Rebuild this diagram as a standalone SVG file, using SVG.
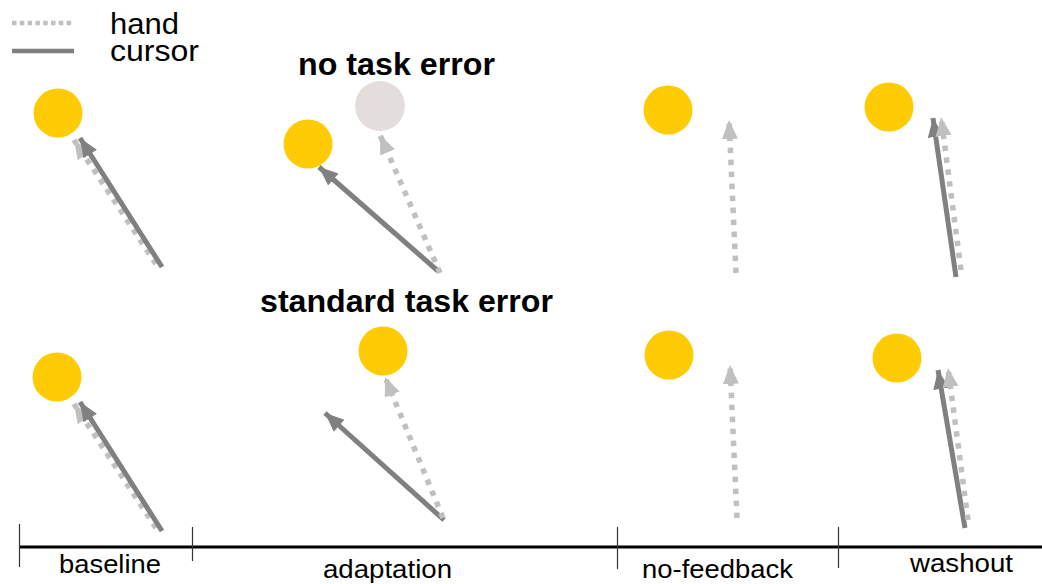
<svg xmlns="http://www.w3.org/2000/svg" width="1042" height="584" viewBox="0 0 1042 584">
<style>
.cur{stroke:#808080;stroke-width:5;fill:none;marker-end:url(#hc)}
.hand{stroke:#c0c0c0;stroke-width:5.5;fill:none;stroke-dasharray:5.5 6.5;marker-end:url(#hh)}
.tgt{fill:#fecb05}
.ghost{fill:#e3dedb}
.lbl{font-family:"Liberation Sans",Arial,sans-serif;font-size:26px;fill:#000}
.leg{font-family:"Liberation Sans",Arial,sans-serif;font-size:29px;fill:#000}
.ttl{font-family:"Liberation Sans",Arial,sans-serif;font-size:31px;font-weight:bold;fill:#000}
.tick{stroke:#333;stroke-width:1.2}
</style>
<defs>
<marker id="hc" markerUnits="userSpaceOnUse" markerWidth="20" markerHeight="18" refX="19" refY="9" orient="auto"><path d="M0,1 L19,9 L0,17 z" fill="#808080"/></marker>
<marker id="hh" markerUnits="userSpaceOnUse" markerWidth="20" markerHeight="18" refX="19" refY="9" orient="auto"><path d="M0,1 L19,9 L0,17 z" fill="#c0c0c0"/></marker>
</defs>
<rect width="1042" height="584" fill="#fff"/>
<g id="legend">
<line x1="12" y1="23" x2="74" y2="23" stroke="#c0c0c0" stroke-width="4.5" stroke-dasharray="4.5 3.3"/>
<line x1="12" y1="51" x2="74" y2="51" stroke="#808080" stroke-width="4.5"/>
<text x="110" y="34" class="leg" textLength="69" lengthAdjust="spacingAndGlyphs">hand</text>
<text x="110" y="61" class="leg" textLength="89" lengthAdjust="spacingAndGlyphs">cursor</text>
</g>
<g id="titles">
<text x="298" y="75" class="ttl" textLength="197" lengthAdjust="spacingAndGlyphs">no task error</text>
<text x="260" y="312" class="ttl" textLength="293" lengthAdjust="spacingAndGlyphs">standard task error</text>
</g>
<g id="targets">
<circle id="t-base-top" class="tgt" cx="58" cy="113" r="24.5"/>
<circle id="t-adapt-top" class="tgt" cx="308" cy="144" r="24.5"/>
<circle id="t-adapt-top-ghost" class="ghost" cx="380" cy="106" r="25"/>
<circle id="t-nofb-top" class="tgt" cx="668" cy="110" r="24.5"/>
<circle id="t-wash-top" class="tgt" cx="889" cy="107" r="24.5"/>
<circle id="t-base-bot" class="tgt" cx="57" cy="377" r="24.5"/>
<circle id="t-adapt-bot" class="tgt" cx="383" cy="351" r="24.5"/>
<circle id="t-nofb-bot" class="tgt" cx="669" cy="355" r="24.5"/>
<circle id="t-wash-bot" class="tgt" cx="897" cy="358" r="24.5"/>
</g>
<g id="connectors">
<line class="hand" x1="156" y1="264" x2="74" y2="140"/>
<line class="cur" x1="162" y1="267" x2="80" y2="138"/>
<line class="cur" x1="438" y1="271" x2="319" y2="167"/>
<line class="hand" x1="440" y1="273" x2="380" y2="135"/>
<line class="hand" x1="736" y1="273" x2="729" y2="120"/>
<line class="cur" x1="956" y1="277" x2="933" y2="118"/>
<line class="hand" x1="961" y1="270" x2="941" y2="117"/>
<line class="hand" x1="156" y1="528" x2="74" y2="404"/>
<line class="cur" x1="162" y1="531" x2="80" y2="402"/>
<line class="cur" x1="444" y1="520" x2="325" y2="413"/>
<line class="hand" x1="443" y1="518" x2="385" y2="377"/>
<line class="hand" x1="737" y1="518" x2="730" y2="365"/>
<line class="cur" x1="965" y1="528" x2="938" y2="370"/>
<line class="hand" x1="968" y1="520" x2="948" y2="368"/>
</g>
<g id="timeline">
<line x1="19" y1="547" x2="1042" y2="547" stroke="#000" stroke-width="3"/>
<line class="tick" x1="19.5" y1="524" x2="19.5" y2="567"/>
<line class="tick" x1="192.5" y1="527" x2="192.5" y2="561"/>
<line class="tick" x1="617.5" y1="527" x2="617.5" y2="569"/>
<line class="tick" x1="838.5" y1="527" x2="838.5" y2="568"/>
<text x="59" y="573" class="lbl" textLength="102" lengthAdjust="spacingAndGlyphs">baseline</text>
<text x="323" y="578" class="lbl" textLength="129" lengthAdjust="spacingAndGlyphs">adaptation</text>
<text x="642" y="578" class="lbl" textLength="151" lengthAdjust="spacingAndGlyphs">no-feedback</text>
<text x="910" y="572" class="lbl" textLength="103" lengthAdjust="spacingAndGlyphs">washout</text>
</g>
</svg>
